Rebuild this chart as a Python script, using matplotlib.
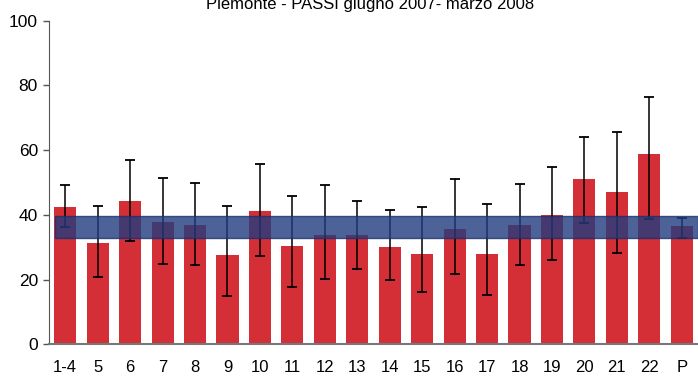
import matplotlib
matplotlib.use('Agg')
import matplotlib.pyplot as plt
import numpy as np

plt.rcParams['font.family'] = ['Liberation Sans', 'DejaVu Sans']

labels = ['1-4', '5', '6', '7', '8', '9', '10', '11', '12', '13', '14',
          '15', '16', '17', '18', '19', '20', '21', '22', 'P']
values = [42.5, 31.4, 44.3, 37.8, 36.9, 27.6, 41.2, 30.4, 33.8, 33.8, 30.1,
          27.9, 35.6, 27.9, 36.9, 40.0, 51.1, 47.1, 58.9, 36.6]
upper = [49.1, 42.7, 56.8, 51.5, 50.0, 42.7, 55.7, 45.9, 49.1, 44.3, 41.5,
         42.3, 51.2, 43.5, 49.6, 54.9, 64.2, 65.7, 76.5, 39.0]
lower = [36.3, 20.8, 31.8, 24.9, 24.5, 14.8, 27.3, 17.6, 20.1, 23.3, 19.8,
         16.1, 21.7, 15.2, 24.5, 26.1, 37.4, 28.2, 38.6, 32.8]
band_low, band_high = 33.0, 39.7

x = np.arange(len(values))
vals = np.array(values)
err = [vals - np.array(lower), np.array(upper) - vals]

fig = plt.figure(figsize=(6.98, 3.77), dpi=100)
ax = fig.add_axes([49/698, (377-344.3)/377, (698-49)/698, 323.6/377])

ax.bar(x, vals, width=0.68, color='#D42F37', zorder=2)
ax.errorbar(x, vals, yerr=err, fmt='none', ecolor='black', elinewidth=1.1,
            capsize=3.8, capthick=1.3, zorder=3)
# regional confidence band
ax.fill_between([-0.32, len(values) - 0.5], band_low, band_high,
                facecolor='#213C7F', alpha=0.8, edgecolor='#1A2F6A',
                linewidth=1, zorder=4)

ax.set_xlim(-0.5, len(values) - 0.5)
ax.set_ylim(0, 100)
ax.set_yticks([0, 20, 40, 60, 80, 100])
ax.set_xticks(x)
ax.set_xticklabels(labels)
ax.tick_params(axis='x', length=0, pad=11, labelsize=12)
ax.tick_params(axis='y', length=4, width=1, color='#555555', labelsize=12.5, pad=4)
for s in ['top', 'right']:
    ax.spines[s].set_visible(False)
ax.spines['left'].set_color('#555555')
ax.spines['bottom'].set_color('#777777')
ax.spines['bottom'].set_linewidth(1.5)

fig.text(0.53, 1 - 9/377, 'Piemonte - PASSI giugno 2007- marzo 2008',
         ha='center', va='baseline', fontsize=12)

fig.savefig('out.png', dpi=100)
